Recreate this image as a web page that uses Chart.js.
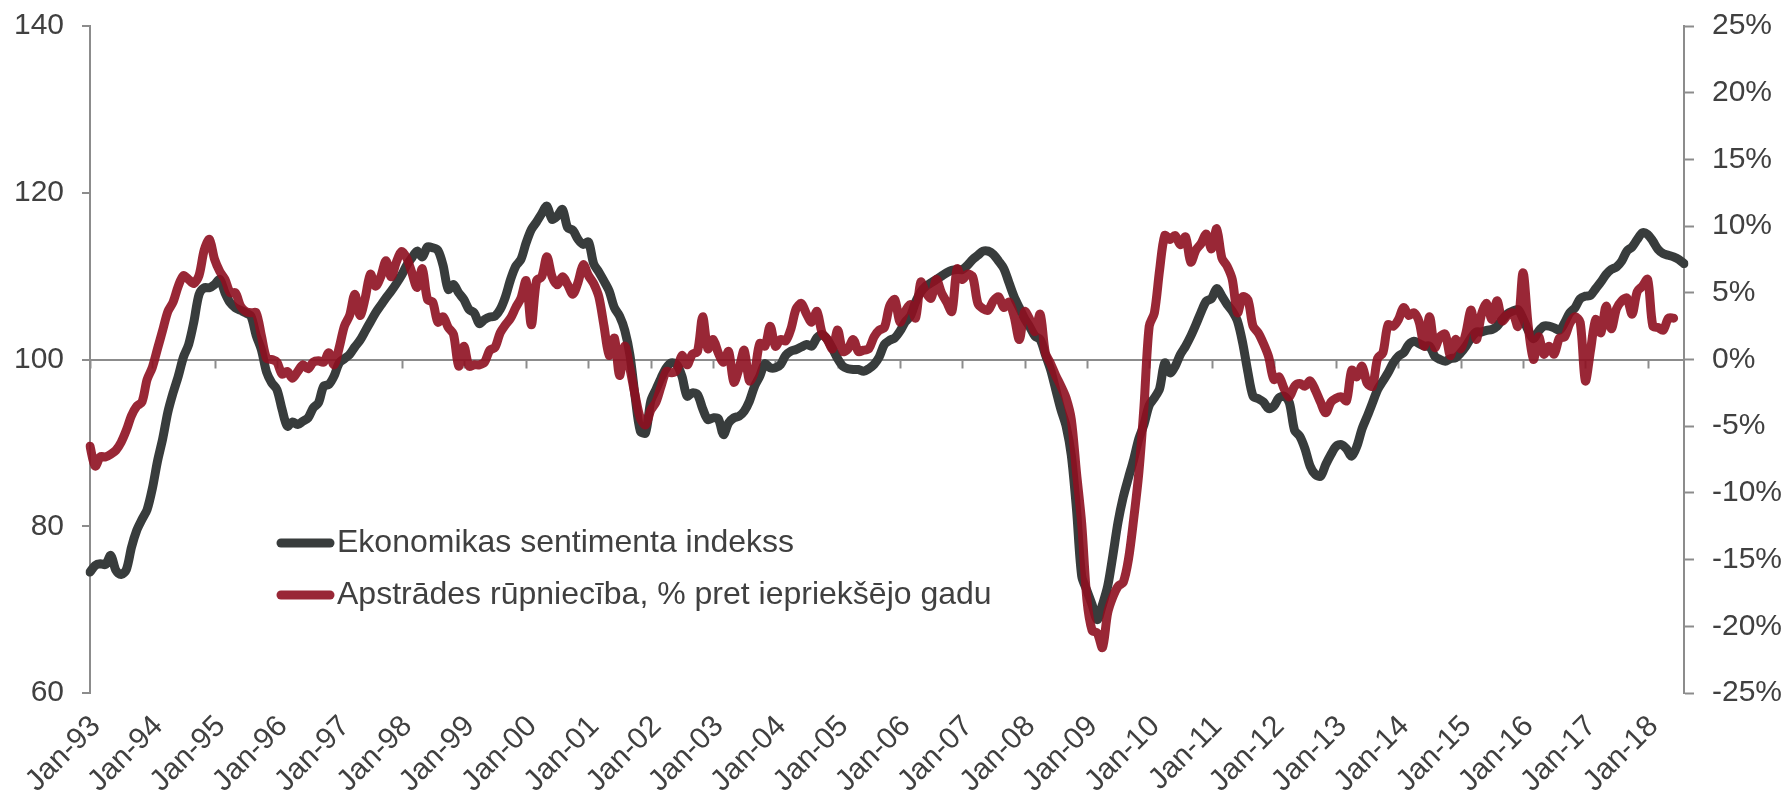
<!DOCTYPE html>
<html>
<head>
<meta charset="utf-8">
<script src="https://cdn.jsdelivr.net/npm/chart.js@4.4.1/dist/chart.umd.min.js"></script>
<style>
  html, body { margin: 0; background: #fff; }
  #wrap { width: 1790px; height: 800px; position: relative; }
</style>
</head>
<body>
<div id="wrap"><canvas id="sentChart"></canvas></div>
<script>
const monthNames = ['Jan', 'Feb', 'Mar', 'Apr', 'May', 'Jun', 'Jul', 'Aug', 'Sep', 'Oct', 'Nov', 'Dec'];
const yearTickLabels = ['Jan-93', 'Jan-94', 'Jan-95', 'Jan-96', 'Jan-97', 'Jan-98', 'Jan-99', 'Jan-00', 'Jan-01',
  'Jan-02', 'Jan-03', 'Jan-04', 'Jan-05', 'Jan-06', 'Jan-07', 'Jan-08', 'Jan-09', 'Jan-10', 'Jan-11', 'Jan-12',
  'Jan-13', 'Jan-14', 'Jan-15', 'Jan-16', 'Jan-17', 'Jan-18'];
const leftTicks = [60, 80, 100, 120, 140];
const rightTicks = [-25, -20, -15, -10, -5, 0, 5, 10, 15, 20, 25];
const seriesNames = ['Ekonomikas sentimenta indekss', 'Apstrādes rūpniecība, % pret iepriekšējo gadu'];

// monthly, Jan-93 .. Aug-18
const sentimentIndex = [
  74.5, 75.3, 75.5, 75.4, 76.5, 74.7, 74.2, 74.8, 77.5, 79.5, 80.8, 82.0,
  84.5, 87.8, 90.5, 93.7, 96.0, 98.0, 100.3, 101.8, 104.5, 107.8, 108.6, 108.6,
  109.0, 109.6, 108.0, 106.8, 106.2, 105.9, 105.6, 105.2, 102.9, 101.2, 98.5, 97.2,
  96.4, 94.0, 92.0, 92.5, 92.2, 92.6, 93.0, 94.2, 94.8, 96.8, 97.0, 98.0,
  99.6, 100.1, 100.6, 101.5, 102.3, 103.4, 104.5, 105.6, 106.5, 107.4, 108.2, 109.1,
  110.1, 111.3, 112.2, 113.0, 112.3, 113.5, 113.4, 113.1, 111.3, 108.4, 109.0, 108.0,
  107.2, 106.0, 105.6, 104.3, 104.8, 105.1, 105.2, 106.0, 107.5, 109.6, 111.2, 112.0,
  114.0, 115.6, 116.5, 117.5, 118.4, 116.8, 117.2, 118.0, 115.8, 115.5, 114.4, 113.8,
  114.1, 111.5, 110.5, 109.4, 108.2, 106.2, 105.2, 103.5, 100.5, 95.5, 91.4, 91.2,
  95.0, 96.4, 97.8, 99.0, 99.6, 99.4, 98.0, 95.6, 96.0, 95.8, 94.1, 92.8,
  93.0, 92.9, 91.0, 92.4, 93.0, 93.2, 93.8, 95.0, 96.8, 98.0, 99.5, 99.0,
  99.0, 99.4, 100.5, 101.0, 101.2, 101.5, 101.8, 101.6, 102.6, 103.0, 102.4, 101.3,
  100.1, 99.2, 98.9, 98.8, 98.8, 98.6, 98.9, 99.4, 100.3, 101.8, 102.3, 102.6,
  103.4, 104.5, 105.2, 106.9, 108.1, 108.8, 109.2, 109.6, 110.0, 110.4, 110.7, 110.8,
  110.8, 111.3, 112.0, 112.5, 113.0, 113.0, 112.6, 111.8, 110.9, 109.2, 107.5, 106.2,
  104.9, 103.9, 102.8, 102.4, 100.6, 98.8, 96.4, 94.0, 92.0, 88.5, 82.0, 74.0,
  72.3, 70.6, 68.8, 70.6, 72.8, 76.5, 80.5, 83.5, 85.8, 88.0, 90.5, 92.2,
  94.5, 95.4, 96.5, 99.6, 98.4, 99.2, 100.6, 101.6, 102.8, 104.2, 105.7, 107.0,
  107.3, 108.5, 107.6, 106.6, 105.8, 104.6, 102.0, 98.5, 95.6, 95.3, 94.9, 94.1,
  94.4, 95.4, 95.6, 94.8, 91.5, 90.8, 89.3, 87.2, 86.2, 86.0, 87.4, 88.6,
  89.6, 89.8, 89.3, 88.4, 89.6, 91.7, 93.2, 94.8, 96.4, 97.4, 98.4, 99.6,
  100.4, 100.8, 101.8, 102.2, 101.9, 101.6, 101.6, 100.4, 100.0, 99.8, 100.1, 100.2,
  100.8, 101.6, 102.6, 103.3, 103.3, 103.5, 103.6, 104.0, 104.8, 105.5, 105.8, 106.0,
  104.9, 103.5, 102.5, 103.4, 104.0, 104.0, 103.8, 103.5, 104.4, 105.6, 106.2, 107.3,
  107.6, 107.7, 108.5, 109.3, 110.2, 110.8, 111.1, 111.8, 113.0, 113.5, 114.4, 115.2,
  115.0, 114.2, 113.2, 112.7, 112.5, 112.3, 112.0, 111.5
];

// monthly %, Jan-93 .. Jun-18
const manufacturingYoY = [
  -6.5, -8.0, -7.3, -7.3, -7.1, -6.8, -6.2, -5.3, -4.2, -3.5, -3.2, -1.5,
  -0.6, 0.8, 2.2, 3.6, 4.3, 5.5, 6.3, 6.0, 5.7, 6.3, 8.2, 9.0,
  7.5, 6.6, 6.0, 5.0, 5.0, 4.0, 3.6, 3.5, 3.5, 1.8, 0.1, 0.0,
  -0.2, -1.1, -0.9, -1.4, -0.9, -0.4, -0.7, -0.2, -0.1, -0.2, 0.5, -0.4,
  0.9, 2.5, 3.3, 4.9, 3.3, 4.6, 6.4, 5.5, 6.2, 7.4, 6.2, 7.3,
  8.1, 7.6, 6.5, 5.4, 6.8, 4.5, 4.3, 2.8, 3.2, 2.4, 1.9, -0.5,
  1.0, -0.5, -0.4, -0.4, -0.2, 0.7, 0.9, 2.0, 2.6, 3.1, 3.9, 4.6,
  5.9, 2.6, 5.9, 6.2, 7.7, 6.2, 5.6, 6.2, 5.6, 4.9, 5.8, 7.1,
  6.3, 5.7, 4.7, 2.5, 0.3, 1.6, -1.2, 1.0, -0.7, -2.7, -4.4, -4.9,
  -3.8, -3.2, -2.0, -0.9, -1.0, -0.8, 0.3, -0.4, 0.4, 0.6, 3.2, 0.8,
  1.5, 0.5, -0.2, 0.6, -1.7, -0.7, 0.7, -1.6, -0.9, 1.2, 1.0, 2.5,
  1.0, 1.5, 1.4, 2.3, 3.8, 4.2, 3.4, 2.8, 3.6, 2.0, 1.5, 0.8,
  2.2, 0.6, 0.8, 1.5, 0.6, 0.7, 0.8, 1.7, 2.2, 2.4, 4.0, 4.5,
  2.8, 3.6, 4.1, 3.1, 5.8, 5.0, 4.6, 6.0, 5.0, 4.3, 3.6, 6.8,
  6.0, 6.4, 6.2, 4.2, 3.8, 3.7, 4.4, 4.7, 3.9, 4.3, 3.2, 1.5,
  3.6, 3.0, 2.1, 3.4, 0.5, -0.3, -1.2, -2.0, -2.9, -4.5, -8.5, -12.3,
  -18.0, -20.3, -20.5, -21.6, -19.0, -17.8, -17.0, -16.7, -15.0, -12.0, -8.5, -3.5,
  2.5, 3.5, 6.7, 9.3, 9.0, 9.3, 8.6, 9.2, 7.3, 8.2, 8.7, 9.4,
  8.3, 9.8, 7.6, 7.0, 6.0, 3.5, 4.7, 4.5, 2.5, 2.0, 1.2, 0.2,
  -1.5, -1.3, -2.2, -2.8, -2.0, -1.8, -2.0, -1.6, -2.3, -3.2, -4.0, -3.2,
  -2.9, -2.8, -3.1, -0.8, -1.3, -0.5, -1.8, -2.0, 0.1, 0.5, 2.6, 2.5,
  3.0, 3.9, 3.3, 3.5, 2.8, 1.0, 3.2, 0.9, 1.7, 1.9, 0.3, 1.5,
  0.8, 2.0, 3.7, 1.5, 3.4, 4.2, 3.0, 4.4, 2.9, 3.3, 3.5, 2.5,
  6.5, 2.5, 0.0, 1.7, 0.4, 1.0, 0.4, 1.6, 1.7, 2.7, 3.2, 2.8,
  -1.6, 0.7, 3.0, 2.0, 4.0, 2.3, 3.8, 4.4, 4.6, 3.4, 5.1, 5.5,
  6.0, 2.5, 2.4, 2.2, 3.1, 3.1
];

const monthLabels = [];
for (let y = 1993; monthLabels.length < sentimentIndex.length; y++) {
  for (let m = 0; m < 12 && monthLabels.length < sentimentIndex.length; m++) {
    monthLabels.push(monthNames[m] + '-' + String(y).slice(2));
  }
}

const textColor = '#404040';
const axisColor = '#8c8c8c';
const grayLine = '#383c3c';
const redLine = 'rgba(142, 16, 32, 0.9)';

Chart.defaults.font.family = "'Liberation Sans', Arial, sans-serif";
Chart.defaults.color = textColor;

// small year marks hanging from the 100 line
const yearMarks = {
  id: 'yearMarks',
  beforeDatasetsDraw(chart) {
    const x = chart.scales.x, y = chart.scales.y;
    const y0 = y.getPixelForValue(100);
    const c = chart.ctx;
    c.save();
    c.strokeStyle = axisColor;
    c.lineWidth = 2;
    monthLabels.forEach((lab, i) => {
      if (!yearTickLabels.includes(lab)) return;
      const px = Math.round(x.getPixelForValue(i)) + 0.5;
      c.beginPath();
      c.moveTo(px, y0);
      c.lineTo(px, y0 + 9);
      c.stroke();
    });
    c.restore();
  }
};

// legend drawn inside the plot
const innerLegend = {
  id: 'innerLegend',
  afterDraw(chart) {
    const c = chart.ctx;
    const rows = [543, 595];
    c.save();
    c.font = "32px 'Liberation Sans', Arial, sans-serif";
    c.textBaseline = 'middle';
    chart.data.datasets.forEach((ds, i) => {
      const yy = rows[i];
      c.strokeStyle = ds.borderColor;
      c.lineWidth = 9;
      c.lineCap = 'round';
      c.beginPath();
      c.moveTo(281, yy);
      c.lineTo(330, yy);
      c.stroke();
      c.fillStyle = textColor;
      c.fillText(ds.label, 337, yy);
    });
    c.restore();
  }
};

// keep the plot top fixed by the layout padding, not by the tick label overhang
const noVerticalOverhang = s => { s.paddingTop = 0; s.paddingBottom = 0; };

new Chart(document.getElementById('sentChart'), {
  type: 'line',
  data: {
    labels: monthLabels,
    datasets: [
      {
        label: seriesNames[0],
        data: sentimentIndex,
        yAxisID: 'y',
        borderColor: grayLine,
        borderWidth: 9,
        pointRadius: 0,
        tension: 0.3,
        borderJoinStyle: 'round',
        borderCapStyle: 'round',
        order: 1
      },
      {
        label: seriesNames[1],
        data: manufacturingYoY,
        yAxisID: 'y1',
        borderColor: redLine,
        borderWidth: 9,
        pointRadius: 0,
        tension: 0.3,
        borderJoinStyle: 'round',
        borderCapStyle: 'round',
        order: 0
      }
    ]
  },
  options: {
    responsive: true,
    maintainAspectRatio: false,
    animation: false,
    layout: { padding: { top: 26 } },
    plugins: {
      legend: { display: false },
      tooltip: { enabled: false }
    },
    scales: {
      x: {
        grid: { display: false, drawTicks: false },
        border: { display: false },
        ticks: {
          autoSkip: false,
          minRotation: 45,
          maxRotation: 45,
          padding: 16,
          labelOffset: 6,
          font: { size: 30 },
          color: textColor,
          callback: function (v) {
            const lab = monthLabels[v];
            return yearTickLabels.includes(lab) ? lab : null;
          }
        },
        afterFit: s => { s.height = 107; }
      },
      y: {
        position: 'left',
        min: leftTicks[0],
        max: leftTicks[leftTicks.length - 1],
        ticks: { stepSize: 20, padding: 18, font: { size: 30 }, color: textColor },
        grid: {
          color: ctx => (ctx.tick && ctx.tick.value === 100 ? axisColor : 'transparent'),
          lineWidth: 2,
          tickLength: 8,
          tickColor: axisColor,
          tickWidth: 2
        },
        border: { color: axisColor, width: 2 },
        afterFit: s => { s.width = 90; noVerticalOverhang(s); }
      },
      y1: {
        position: 'right',
        min: rightTicks[0],
        max: rightTicks[rightTicks.length - 1],
        ticks: {
          stepSize: 5,
          padding: 18,
          font: { size: 30 },
          color: textColor,
          callback: v => v + '%'
        },
        grid: { drawOnChartArea: false, tickLength: 10, tickColor: axisColor, tickWidth: 2 },
        border: { color: axisColor, width: 2 },
        afterFit: s => { s.width = 106; noVerticalOverhang(s); }
      }
    }
  },
  plugins: [yearMarks, innerLegend]
});
</script>
</body>
</html>
